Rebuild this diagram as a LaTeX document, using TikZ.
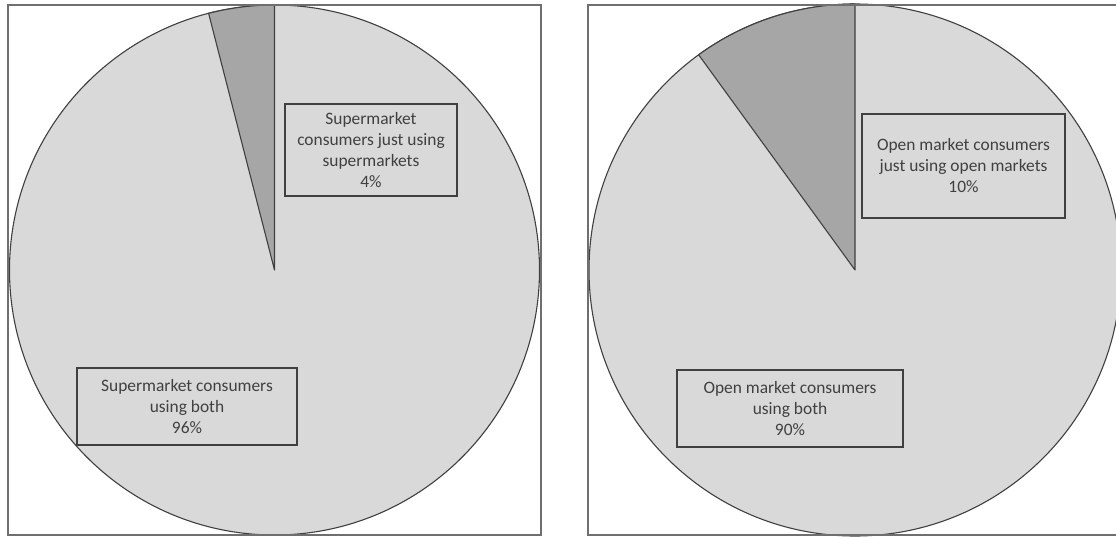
\documentclass[tikz,border=0pt]{standalone}
\usepackage{fontspec}
\setmainfont{Carlito}
\definecolor{pielight}{HTML}{D9D9D9}
\definecolor{piedark}{HTML}{A6A6A6}
\definecolor{frameline}{HTML}{6F6F6F}
\definecolor{edgeline}{HTML}{404040}
\definecolor{txt}{HTML}{404040}
\tikzset{
  frame/.style={draw=frameline, line width=1.6pt},
  pie/.style={fill=pielight, draw=edgeline, line width=1.1pt},
  slice/.style={fill=piedark, draw=edgeline, line width=1.1pt, line join=round},
  label/.style={draw=edgeline, line width=1.4pt, fill=pielight, text=txt, align=center,
    inner sep=0pt, font=\fontsize{17.4}{21}\selectfont},
}
\begin{document}
\begin{tikzpicture}[x=1pt,y=-1pt]
\useasboundingbox (0,0) rectangle (1116,537);
\clip (0,0) rectangle (1116,537);
\fill[white] (0,0) rectangle (1116,537);
% left pie
\coordinate (c1) at (274.5,270);
\draw[pie] (c1) circle[radius=265];
\draw[slice] (c1) -- ++(0,-265) arc[start angle=-90, end angle=-104.4, radius=265] -- cycle;
\draw[frame] (8,5) rectangle (541,535);
% right pie
\coordinate (c2) at (855,270);
\draw[pie] (c2) circle[radius=266];
\draw[slice] (c2) -- ++(0,-266) arc[start angle=-90, end angle=-126, radius=266] -- cycle;
\draw[frame] (588,5) rectangle (1130,535);
% labels
\node[label, minimum width=172, minimum height=92] (l1) at (371,150)
  {Supermarket\\consumers just using\\supermarkets\\4\%};
\node[label, minimum width=220, minimum height=77] (l2) at (187,406.5)
  {Supermarket consumers\\using both\\96\%};
\node[label, minimum width=203, minimum height=104] (l3) at (963.5,166)
  {Open market consumers\\just using open markets\\10\%};
\node[label, minimum width=226, minimum height=77] (l4) at (790,408.5)
  {Open market consumers\\using both\\90\%};
\end{tikzpicture}
\end{document}
